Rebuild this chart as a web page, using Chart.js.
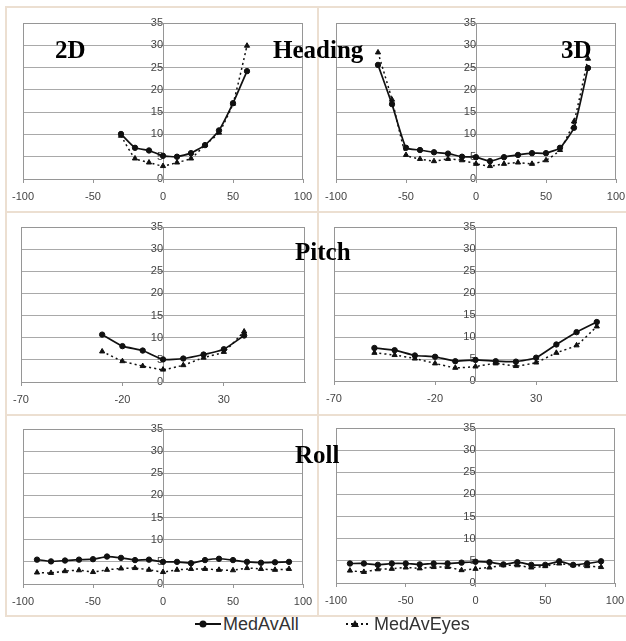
<!DOCTYPE html>
<html><head><meta charset="utf-8">
<script src="https://cdn.jsdelivr.net/npm/chart.js@4"></script>
<style>
html,body{margin:0;padding:0;background:#fff;}
#wrap{position:relative;width:626px;height:641px;overflow:hidden;font-family:"Liberation Sans",Arial,sans-serif;}
canvas.cv{position:absolute;}
.t{position:absolute;font-family:"Liberation Serif","Times New Roman",serif;font-weight:bold;font-size:25px;line-height:25px;color:#000;white-space:nowrap;z-index:5;}
.ln{position:absolute;background:#ecdfd1;}
.lg{position:absolute;font-size:18px;line-height:18px;color:#333;white-space:nowrap;}
</style></head>
<body>
<div id="wrap">
  <div class="ln" style="left:5px;top:6px;width:621px;height:2px"></div>
  <div class="ln" style="left:5px;top:6px;width:2px;height:611px"></div>
  <div class="ln" style="left:317px;top:6px;width:2px;height:611px"></div>
  <div class="ln" style="left:5px;top:211px;width:621px;height:2px"></div>
  <div class="ln" style="left:5px;top:414px;width:621px;height:2px"></div>
  <div class="ln" style="left:5px;top:615px;width:621px;height:2px"></div>

  <canvas class="cv" id="c0"></canvas>
  <canvas class="cv" id="c1"></canvas>
  <canvas class="cv" id="c2"></canvas>
  <canvas class="cv" id="c3"></canvas>
  <canvas class="cv" id="c4"></canvas>
  <canvas class="cv" id="c5"></canvas>

  <div class="t" style="left:55px;top:37px">2D</div>
  <div class="t" style="left:273px;top:37px">Heading</div>
  <div class="t" style="left:561px;top:37px">3D</div>
  <div class="t" style="left:295px;top:239px">Pitch</div>
  <div class="t" style="left:295px;top:442px">Roll</div>

  <svg style="position:absolute;left:194px;top:617px" width="28" height="14"><line x1="1" y1="7" x2="27" y2="7" stroke="#111" stroke-width="2"/><circle cx="9" cy="7" r="3.5" fill="#111"/></svg>
  <div class="lg" style="left:223px;top:615px">MedAvAll</div>
  <svg style="position:absolute;left:345px;top:617px" width="28" height="14"><line x1="1" y1="7" x2="25" y2="7" stroke="#111" stroke-width="2" stroke-dasharray="2,3"/><polygon points="10,3 14,10 6,10" fill="#111"/></svg>
  <div class="lg" style="left:374px;top:615px">MedAvEyes</div>
</div>
<script>
// ---- data ----
const seriesNames = ["MedAvAll", "MedAvEyes"];
const yTicks = [0, 5, 10, 15, 20, 25, 30, 35];
const xTicksWide = [-100, -50, 0, 50, 100];
const xTicksPitch = [-70, -20, 30];

const heading2DX = [-30, -20, -10, 0, 10, 20, 30, 40, 50, 60];
const heading2DAll = [10.1, 7.0, 6.4, 5.2, 5.0, 5.8, 7.6, 10.9, 17.0, 24.2];
const heading2DEyes = [9.7, 4.6, 3.7, 2.9, 3.7, 4.6, 7.6, 10.4, 16.9, 29.9];

const heading3DX = [-70, -60, -50, -40, -30, -20, -10, 0, 10, 20, 30, 40, 50, 60, 70, 80];
const heading3DAll = [25.6, 16.8, 7.0, 6.5, 6.0, 5.7, 5.0, 4.9, 4.0, 4.9, 5.4, 5.8, 5.8, 7.0, 11.5, 24.9];
const heading3DEyes = [28.4, 17.8, 5.4, 4.5, 4.0, 4.5, 4.2, 3.4, 2.9, 3.4, 3.7, 3.4, 4.2, 6.5, 12.9, 27.0];

const pitch2DX = [-30, -20, -10, 0, 10, 20, 30, 40];
const pitch2DAll = [10.7, 8.1, 7.1, 5.1, 5.3, 6.2, 7.4, 10.5];
const pitch2DEyes = [6.9, 4.7, 3.6, 2.8, 3.8, 5.5, 6.8, 11.4];

const pitch3DX = [-50, -40, -30, -20, -10, 0, 10, 20, 30, 40, 50, 60];
const pitch3DAll = [7.5, 7.0, 5.8, 5.5, 4.5, 4.8, 4.5, 4.4, 5.3, 8.3, 11.1, 13.4];
const pitch3DEyes = [6.4, 5.9, 5.1, 4.0, 3.0, 3.3, 4.0, 3.4, 4.2, 6.4, 8.1, 12.4];

const rollX = [-90, -80, -70, -60, -50, -40, -30, -20, -10, 0, 10, 20, 30, 40, 50, 60, 70, 80, 90];
const roll2DAll = [5.5, 5.1, 5.3, 5.5, 5.6, 6.2, 5.9, 5.4, 5.5, 5.0, 5.0, 4.7, 5.4, 5.7, 5.4, 5.0, 4.8, 4.9, 5.0];
const roll2DEyes = [2.6, 2.5, 2.9, 3.1, 2.7, 3.2, 3.5, 3.6, 3.2, 2.7, 3.2, 3.4, 3.4, 3.2, 3.1, 3.6, 3.4, 3.2, 3.4];
const roll3DAll = [4.4, 4.4, 4.1, 4.4, 4.4, 4.2, 4.4, 4.4, 4.6, 4.8, 4.7, 4.2, 4.7, 4.1, 4.1, 4.9, 4.1, 4.4, 4.9];
const roll3DEyes = [2.8, 2.5, 3.1, 3.2, 3.5, 3.3, 3.6, 3.6, 2.9, 3.2, 3.5, 4.0, 4.0, 3.5, 3.8, 4.4, 4.0, 3.8, 3.6];

// ---- panels (layout only) ----
const panels = [
  {id: "c0", L: 23, T: 23, R: 303, B: 179, xs: heading2DX, all: heading2DAll, eyes: heading2DEyes, xmin: -100, xmax: 100, xt: xTicksWide},
  {id: "c1", L: 336, T: 23, R: 616, B: 179, xs: heading3DX, all: heading3DAll, eyes: heading3DEyes, xmin: -100, xmax: 100, xt: xTicksWide},
  {id: "c2", L: 21, T: 227, R: 305, B: 382, xs: pitch2DX, all: pitch2DAll, eyes: pitch2DEyes, xmin: -70, xmax: 70, xt: xTicksPitch},
  {id: "c3", L: 334, T: 227, R: 617, B: 381, xs: pitch3DX, all: pitch3DAll, eyes: pitch3DEyes, xmin: -70, xmax: 70, xt: xTicksPitch},
  {id: "c4", L: 23, T: 429, R: 303, B: 584, xs: rollX, all: roll2DAll, eyes: roll2DEyes, xmin: -100, xmax: 100, xt: xTicksWide},
  {id: "c5", L: 336, T: 428, R: 615, B: 583, xs: rollX, all: roll3DAll, eyes: roll3DEyes, xmin: -100, xmax: 100, xt: xTicksWide}
];

const PADX = 22, PADT = 12, XAXH = 28;
const tickFont = {family: "'Liberation Sans', Arial, sans-serif", size: 11};
const axisGray = '#969696';

const plotBorder = {
  id: 'plotBorder',
  beforeDatasetsDraw(chart) {
    const a = chart.chartArea, ctx = chart.ctx;
    ctx.save();
    ctx.strokeStyle = axisGray;
    ctx.lineWidth = 1;
    ctx.strokeRect(Math.round(a.left) + 0.5, Math.round(a.top) + 0.5, Math.round(a.right - a.left) - 1, Math.round(a.bottom - a.top));
    ctx.restore();
  }
};

panels.forEach(p => {
  const cv = document.getElementById(p.id);
  const w = (p.R - p.L) + 2 * PADX;
  const h = (p.B - p.T) + PADT + XAXH;
  cv.width = w; cv.height = h;
  cv.style.left = (p.L - PADX) + 'px';
  cv.style.top = (p.T - PADT) + 'px';
  cv.style.width = w + 'px'; cv.style.height = h + 'px';

  const allPts = p.xs.map((x, i) => ({x: x, y: p.all[i]}));
  const eyePts = p.xs.map((x, i) => ({x: x, y: p.eyes[i]}));

  new Chart(cv, {
    type: 'line',
    data: {
      datasets: [
        {label: seriesNames[1], data: eyePts, borderColor: '#111', backgroundColor: '#111', borderWidth: 1.5,
         borderDash: [2, 3], pointStyle: 'triangle', pointRadius: 3, pointBorderWidth: 1, tension: 0.15},
        {label: seriesNames[0], data: allPts, borderColor: '#111', backgroundColor: '#111', borderWidth: 1.7,
         pointStyle: 'circle', pointRadius: 2.7, pointBorderWidth: 1, tension: 0.15}
      ]
    },
    options: {
      responsive: false,
      animation: false,
      devicePixelRatio: 1,
      layout: {padding: {left: PADX, right: PADX, top: PADT, bottom: 0}},
      plugins: {legend: {display: false}, tooltip: {enabled: false}},
      scales: {
        x: {
          type: 'linear', position: 'bottom', min: p.xmin, max: p.xmax,
          afterBuildTicks: s => { s.ticks = p.xt.map(v => ({value: v})); },
          afterFit: s => { s.height = XAXH; },
          grid: {drawOnChartArea: false, drawTicks: true, tickLength: 4, color: axisGray},
          border: {display: true, color: axisGray},
          ticks: {font: tickFont, color: '#444', padding: 7, autoSkip: false, maxRotation: 0}
        },
        y: {
          type: 'linear', position: {x: 0}, min: 0, max: 35,
          afterBuildTicks: s => { s.ticks = yTicks.map(v => ({value: v})); },
          grid: {color: '#a9a9a9', drawTicks: true, tickLength: 4, tickColor: axisGray},
          border: {display: true, color: axisGray},
          ticks: {font: tickFont, color: '#444', padding: 2}
        }
      }
    },
    plugins: [plotBorder]
  });
});
</script>
</body></html>
